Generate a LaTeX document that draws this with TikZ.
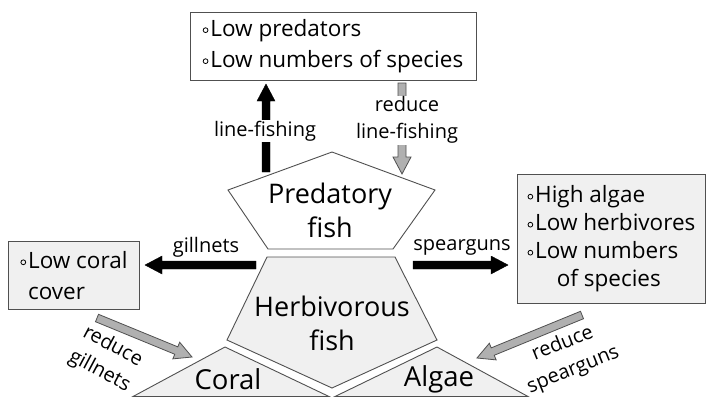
\documentclass[tikz,border=0pt]{standalone}
\usepackage{fontspec}
\setmainfont{Open Sans}
\usetikzlibrary{calc}
\definecolor{paleg}{HTML}{F0F0F0}
\definecolor{arrowg}{HTML}{B0B0B0}
\definecolor{edgeg}{HTML}{505050}

\newcommand{\bul}{\raisebox{0.28ex}{\tikz\draw[line width=0.8pt] (0,0) circle (2.4pt);}\hspace{2pt}}

% block arrow: #1 style, #2 from, #3 to
\newcommand{\blockarrow}[3]{%
  \coordinate (hb) at ($(#3)!17pt!(#2)$);
  \filldraw[#1] ($(#2)!4pt!90:(#3)$) -- ($(hb)!4pt!90:(#3)$) -- ($(hb)!9pt!90:(#3)$)
    -- (#3) -- ($(hb)!9pt!-90:(#3)$) -- ($(hb)!4pt!-90:(#3)$) -- ($(#2)!4pt!-90:(#3)$) -- cycle;
}

\begin{document}
\begin{tikzpicture}[x=1pt,y=-1pt,
    shapeline/.style={draw=edgeg, line width=0.9pt},
    box/.style={draw=edgeg, line width=1pt, align=left, font=\fontsize{22.5}{31}\selectfont},
    big/.style={align=center, font=\fontsize{27}{34}\selectfont},
    bigger/.style={font=\fontsize{27.5}{30}\selectfont},
    lbl/.style={align=center, fill=white, inner sep=1pt, font=\fontsize{20}{27}\selectfont},
    blackarrow/.style={fill=black, draw=black, line width=0.4pt},
    grayarrow/.style={fill=arrowg, draw=edgeg, line width=0.8pt}]
    \useasboundingbox (0,0) rectangle (706,397);

    % trophic levels
    \filldraw[shapeline, fill=white] (332,152) -- (435,190) -- (393,249) -- (268,249) -- (228,190) -- cycle;
    \filldraw[shapeline, fill=paleg] (267,257) -- (395,257) -- (437,340) -- (332,388) -- (227,340) -- cycle;
    \filldraw[shapeline, fill=paleg] (225,347) -- (329,396.5) -- (133,396.5) -- cycle;
    \filldraw[shapeline, fill=paleg] (437,347) -- (528,396.5) -- (335,396.5) -- cycle;

    \node[big] (pred) at (330,210) {Predatory\\fish};
    \node[big] (herb) at (332,323) {Herbivorous\\fish};
    \node[bigger] (coral) at (228,379) {Coral};
    \node[bigger] (algae) at (439,379) {Algae};

    % outcome boxes
    \node[box, fill=white, minimum width=286, minimum height=68] (topbox) at (333,46)
        {\bul Low predators\\\bul Low numbers of species};
    \node[box, fill=paleg, minimum width=131, minimum height=68, anchor=north west, inner xsep=5pt] (leftbox) at (8,241)
        {\bul Low coral\\\phantom{\bul}cover};
    \node[box, fill=paleg, minimum width=188, minimum height=129, anchor=north west, inner xsep=4pt, font=\fontsize{22.5}{28}\selectfont] (rightbox) at (517,174)
        {\bul High algae\\\bul Low herbivores\\\bul Low numbers\\\hspace*{1.3em}of species};

    % fishing gears
    \coordinate (lfA) at (266,172);
    \coordinate (lfB) at (266,84);
    \blockarrow{blackarrow}{lfA}{lfB}
    \node[lbl] (lf) at (265,131) {line-fishing};

    \coordinate (rlA) at (402,83);
    \coordinate (rlB) at (402,174);
    \blockarrow{grayarrow}{rlA}{rlB}
    \node[lbl] (rlf) at (407,120) {reduce\\line-fishing};

    \coordinate (gnA) at (256,265);
    \coordinate (gnB) at (145,265);
    \blockarrow{blackarrow}{gnA}{gnB}
    \node[lbl] (gn) at (206,247) {gillnets};

    \coordinate (sgA) at (413,265);
    \coordinate (sgB) at (508,265);
    \blockarrow{blackarrow}{sgA}{sgB}
    \node[lbl] (sg) at (462,247) {spearguns};

    \coordinate (rgA) at (97,318);
    \coordinate (rgB) at (192,357);
    \blockarrow{grayarrow}{rgA}{rgB}
    \node[lbl, fill=none, rotate=-28, font=\fontsize{20}{28}\selectfont] (rgn) at (106,359) {reduce\\gillnets};

    \coordinate (rsA) at (582,315);
    \coordinate (rsB) at (477,358);
    \blockarrow{grayarrow}{rsA}{rsB}
    \node[lbl, fill=none, rotate=22, font=\fontsize{20}{28}\selectfont] (rsg) at (568,357) {reduce\\spearguns};
\end{tikzpicture}
\end{document}
